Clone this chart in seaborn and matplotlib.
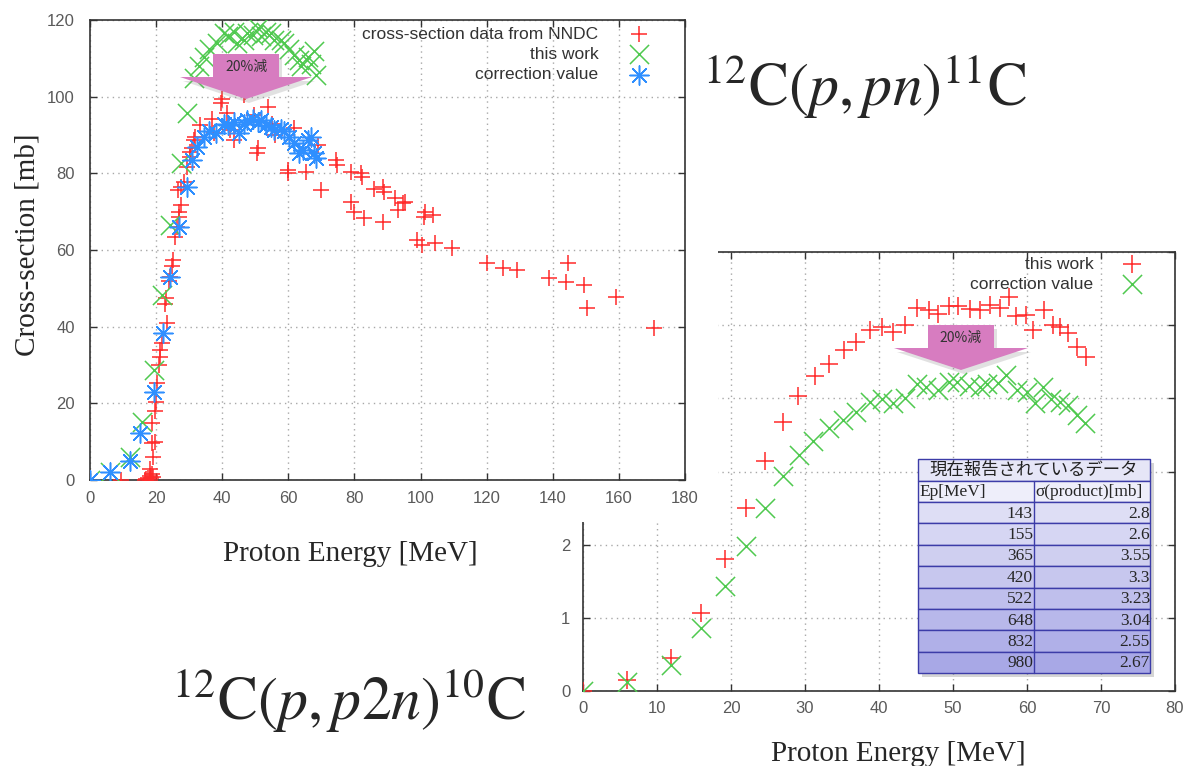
import numpy as np
import matplotlib
matplotlib.use("Agg")
import matplotlib.pyplot as plt
import seaborn as sns
from matplotlib.patches import Rectangle, Polygon

# ---- 12C(p,pn)11C : cross-section [mb] vs proton energy [MeV] ----
nndc_e = [9.5, 16.5, 17, 17.5, 18, 18.2, 18.5, 18.8, 19, 18.2, 19.2, 18.8, 19.6, 18.7, 19.8,
          20, 20.3, 20.8, 21.1, 21.3, 21.8, 23.3, 22.8, 23.1, 23.8, 24.1, 24.8, 25.1, 25.8,
          26.3, 26.8, 26.8, 27.4, 26.5, 27.4, 28.4, 29.4, 30.4, 30.2, 30.9, 31.4, 31.7, 33.4,
          37, 37.5, 39.5, 39.8, 41.5, 42.5, 43.6, 46.6, 46.8, 49.6, 50.7, 50.5, 53.7, 55, 56,
          59.8, 60, 61.8, 65.3, 68.9, 69.9, 74.5, 74.8, 79, 79, 80, 82, 82.2, 83, 86, 88.7,
          88.9, 88.7, 92.2, 93.2, 94.7, 95.2, 98.8, 100.3, 101.3, 101, 103.8, 104.3, 109.4,
          120.1, 124.8, 129.2, 138.8, 143.9, 144.7, 149.4, 150.5, 159, 170.7]
nndc_xs = [0, 0, 0.3, 0.6, 0, 1, 0.5, 1.5, 0.8, 3, 6, 9.6, 10, 15, 18,
           20.4, 25.3, 30, 32, 34, 35.7, 40.9, 46, 47.5, 52, 53, 55.7, 57.4, 63.5,
           66, 68.7, 70, 71.7, 75.7, 76.5, 77.8, 81.7, 84.3, 85.5, 86.5, 88.7, 89.6, 92.6,
           94.3, 90.4, 98.3, 99.3, 95.7, 91.3, 88.7, 100.4, 101.2, 95.2, 86.5, 85.4, 97.4, 93, 90,
           81, 80.2, 91.7, 80.4, 87.4, 75.7, 83.5, 82.2, 80.4, 72.6, 70, 80, 79, 68.3, 76, 76.5,
           75.2, 67.4, 73.5, 70.4, 72.2, 72.6, 62.6, 61.3, 70, 68.7, 69.1, 61.7, 60.4,
           56.5, 55.2, 54.8, 52.6, 51.7, 56.5, 50.9, 44.8, 47.8, 39.6]

pn_work_e = [0, 6, 12.2, 15.7, 19.5, 21.8, 24.3, 27.4, 29.4, 31.4, 32.9, 34.4, 35.9, 38.5,
             40.5, 41.6, 43.6, 44.6, 46.6, 47.6, 49.2, 50.7, 51.7, 53.2, 54.7, 55.7, 57.8,
             58.8, 60.3, 61.8, 63.3, 63.8, 65.9, 66.9, 67.9, 68.4]
pn_work_xs = [0, 2.2, 6, 15.2, 28.7, 48.3, 66.5, 82.6, 95.7, 104.8, 108, 110.3, 112.5, 114,
              116.5, 115.7, 117, 114, 114.8, 116.5, 116, 117.8, 115.7, 117, 116.5, 114.8, 114.8,
              114, 112.5, 111, 109.6, 108, 110.3, 108.6, 112, 105.7]

pn_corr_e = [0, 6, 12.2, 15.2, 19.3, 22.1, 24.3, 26.8, 29.4, 30.8, 32.4, 34.4, 35.9, 38.0,
             40.5, 41.6, 43.6, 45.0, 46.6, 47.6, 49.2, 50.7, 51.7, 53.2, 54.7, 55.7, 57.8,
             58.8, 60.3, 61.8, 63.3, 64.3, 65.9, 66.9, 67.9, 68.4]
pn_corr_xs = [0, 2, 5, 12.2, 23, 38.3, 53, 66, 76.5, 83.5, 87, 89.6, 91, 90.4,
              93, 92.6, 93.5, 90.4, 93, 93.9, 94.3, 93.5, 93.9, 92.6, 92.2, 91.3, 91.5,
              91, 89.6, 87.8, 85.2, 86, 88.7, 89.6, 85.2, 84]

# ---- 12C(p,p2n)10C ----
p2n_work_e = [0, 6, 11.9, 16, 19.2, 22, 24.6, 27, 29.1, 31.3, 33.3, 35.3, 36.9, 38.8, 40.4,
              41.9, 43.5, 45.1, 46.7, 48, 49.4, 50.7, 52.3, 53.6, 55, 56.3, 57.6, 58.5, 59.9,
              60.8, 62.3, 63.5, 64.5, 65.6, 66.7, 68]
p2n_work_xs = [0, 0.15, 0.45, 1.07, 1.81, 2.5, 3.15, 3.68, 4.03, 4.3, 4.47, 4.66, 4.77, 4.93,
               4.97, 4.91, 5.0, 5.23, 5.21, 5.15, 5.26, 5.26, 5.22, 5.21, 5.28, 5.23, 5.39,
               5.12, 5.14, 4.93, 5.21, 5.0, 4.98, 4.89, 4.7, 4.57]

p2n_corr_e = [0, 6, 11.9, 16, 19.2, 22, 24.6, 27, 29.2, 31.1, 33.3, 35.2, 36.9, 38.8, 40.4,
              41.9, 43.5, 45.1, 46.4, 48, 49.4, 50.5, 52.1, 53.6, 54.6, 56.1, 57.2, 58.6, 60,
              61.1, 62.2, 63.3, 64.5, 65.6, 66.7, 67.8]
p2n_corr_xs = [0, 0.12, 0.36, 0.86, 1.43, 1.98, 2.5, 2.94, 3.23, 3.42, 3.59, 3.7, 3.82, 3.95,
               3.99, 3.94, 4.01, 4.2, 4.16, 4.11, 4.23, 4.23, 4.17, 4.16, 4.2, 4.21, 4.32,
               4.11, 4.09, 3.93, 4.16, 3.99, 3.95, 3.91, 3.77, 3.66]

# reported data table
table_title = "現在報告されているデータ"
table_header = ["Ep[MeV]", "σ(product)[mb]"]
table_ep = ["143", "155", "365", "420", "522", "648", "832", "980"]
table_sigma = ["2.8", "2.6", "3.55", "3.3", "3.23", "3.04", "2.55", "2.67"]

RED = "#ff2a2a"
GREEN = "#4fc94f"
BLUE = "#2f8fff"

W, H = 1186, 766


def fig_box(left, top, right, bottom):
    # pixel box -> figure fraction [l, b, w, h]
    return [left / W, 1 - bottom / H, (right - left) / W, (bottom - top) / H]


def fxy(x, y):
    return (x / W, 1 - y / H)


def style_axes(ax, xlim, ylim, xstep, ystep, xpad, ypad):
    ax.set_xlim(*xlim)
    ax.set_ylim(*ylim)
    ax.set_xticks(np.arange(xlim[0], xlim[1] + 0.01, xstep))
    ax.set_yticks(np.arange(ylim[0], ylim[1] + 0.01, ystep))
    ax.grid(True, color="#a8a8a8", linestyle=(0, (1, 3)), linewidth=1)
    ax.set_axisbelow(True)
    ax.tick_params(direction="in", length=5, width=1, top=True, right=True,
                   color="#333333", labelcolor="#5a5a5a", labelsize=12)
    ax.tick_params(axis="x", pad=xpad)
    ax.tick_params(axis="y", pad=ypad)
    for sp in ax.spines.values():
        sp.set_visible(True)
        sp.set_color("#333333")
        sp.set_linewidth(1.2)
    ax.set_xlabel("")
    ax.set_ylabel("")


sns.set_style("ticks")
plt.rcParams["font.family"] = ["Liberation Sans", "Noto Sans CJK JP"]
plt.rcParams["mathtext.fontset"] = "stix"

fig = plt.figure(figsize=(W / 100, H / 100), dpi=100)

# ---------- p2n plot (lower right, partly hidden) ----------
ax2 = fig.add_axes(fig_box(583, 252, 1175, 691))
ax2.set_zorder(0)
sns.scatterplot(x=p2n_work_e, y=p2n_work_xs, marker="+", s=150, color=RED,
                linewidth=1.1, label="this work", ax=ax2, zorder=3)
sns.scatterplot(x=p2n_corr_e, y=p2n_corr_xs, marker="x", s=190, color=GREEN,
                linewidth=1.1, label="correction value", ax=ax2, zorder=3)
style_axes(ax2, (0, 80), (0, 6), 10, 1, 7, 9)
ax2.legend(loc="upper right", bbox_to_anchor=(0.956, 0.99), markerfirst=False,
           frameon=False, fontsize=12.5, labelspacing=0.3, handletextpad=1.2,
           borderpad=0, borderaxespad=0, labelcolor="#333333")

# white area of the pasted pn chart
fig.add_artist(Rectangle(fxy(0, 522), 718 / W, 522 / H, transform=fig.transFigure,
                         facecolor="white", edgecolor="none", zorder=1))

# ---------- pn plot (upper left) ----------
ax1 = fig.add_axes(fig_box(90, 20, 685, 480))
ax1.set_zorder(2)
sns.scatterplot(x=nndc_e, y=nndc_xs, marker="+", s=130, color=RED, linewidth=1.1,
                label="cross-section data from NNDC", ax=ax1, zorder=3)
sns.scatterplot(x=pn_work_e, y=pn_work_xs, marker="x", s=190, color=GREEN, linewidth=1.1,
                label="this work", ax=ax1, zorder=3)
sns.scatterplot(x=pn_corr_e, y=pn_corr_xs, marker=(8, 2, 0), s=190, color=BLUE,
                linewidth=1.1, label="correction value", ax=ax1, zorder=4)
style_axes(ax1, (0, 180), (0, 120), 20, 20, 8, 11)
ax1.legend(loc="upper right", bbox_to_anchor=(0.952, 0.986), markerfirst=False,
           frameon=False, fontsize=12.5, labelspacing=0.3, handletextpad=1.35,
           borderpad=0, borderaxespad=0, labelcolor="#333333")

# axis labels
serif = "Liberation Serif"
fig.text(*fxy(28, 245), "Cross-section [mb]", rotation=90, ha="center", va="center",
         fontsize=21, family=serif, zorder=7)
fig.text(*fxy(350, 561), "Proton Energy [MeV]", ha="center", va="baseline",
         fontsize=21, family=serif, zorder=7)
fig.text(*fxy(898, 761), "Proton Energy [MeV]", ha="center", va="baseline",
         fontsize=21, family=serif, zorder=7)

# reaction titles
fig.text(*fxy(865, 105), r"$^{12}\mathrm{C}(p,pn)^{11}\mathrm{C}$", ha="center",
         va="baseline", fontsize=43, zorder=7)
fig.text(*fxy(349, 719), r"$^{12}\mathrm{C}(p,p2n)^{10}\mathrm{C}$", ha="center",
         va="baseline", fontsize=43, zorder=7)


# "20% down" block arrows
def block_arrow(cx, top, half_body, head_y, half_head, tip_y):
    pts = [(cx - half_body, top), (cx + half_body, top), (cx + half_body, head_y),
           (cx + half_head, head_y), (cx, tip_y), (cx - half_head, head_y),
           (cx - half_body, head_y)]
    shadow = Polygon([fxy(x + 3, y + 4) for x, y in pts], closed=True,
                     transform=fig.transFigure, facecolor="#888888", alpha=0.25,
                     edgecolor="none", zorder=5)
    body = Polygon([fxy(x, y) for x, y in pts], closed=True, transform=fig.transFigure,
                   facecolor="#d77cc0", edgecolor="none", zorder=5)
    fig.add_artist(shadow)
    fig.add_artist(body)
    fig.text(*fxy(cx, (top + head_y) / 2 + 1), "20%減", ha="center", va="center",
             fontsize=10, color="#333333", family=["Noto Sans CJK JP"], zorder=6)


block_arrow(246, 54, 33, 77, 66, 99)
block_arrow(961, 325, 33, 348, 67, 370)

# reported data table
tab = fig.add_axes(fig_box(918, 459, 1150, 673))
tab.set_zorder(6)
tab.set_xlim(0, 232)
tab.set_ylim(214, 0)
tab.axis("off")
edge = "#3c3ca8"
tab.add_patch(Rectangle((4, 4), 232, 214, facecolor="#777777", alpha=0.3,
                        edgecolor="none", clip_on=False, zorder=0))
tab.add_patch(Rectangle((0, 0), 232, 22, facecolor="#e6e6f7", edgecolor=edge,
                        lw=1, clip_on=False, zorder=1))
tab.text(116, 11, table_title, ha="center", va="center", fontsize=12.5,
         family=["Noto Sans CJK JP"], color="#222222")
tab.add_patch(Rectangle((0, 22), 232, 21, facecolor="#eeeefa", edgecolor=edge,
                        lw=1, clip_on=False, zorder=1))
tab.plot([116, 116], [22, 214], color=edge, lw=1, zorder=3, clip_on=False)
tab.text(1, 32.5, table_header[0], ha="left", va="center", fontsize=12.5, family=serif)
tab.text(117, 32.5, table_header[1], ha="left", va="center", fontsize=12.5, family=serif)
row_h = (214 - 43) / len(table_ep)
shades = np.linspace(0, 1, len(table_ep))
for i, (ep, sg) in enumerate(zip(table_ep, table_sigma)):
    y0 = 43 + i * row_h
    c = np.array([0.87, 0.87, 0.96]) * (1 - shades[i]) + np.array([0.66, 0.66, 0.9]) * shades[i]
    tab.add_patch(Rectangle((0, y0), 232, row_h, facecolor=c, edgecolor=edge, lw=1,
                            clip_on=False, zorder=1))
    tab.text(115, y0 + row_h / 2 + 1, ep, ha="right", va="center", fontsize=12.5,
             family=serif, zorder=4)
    tab.text(232, y0 + row_h / 2 + 1, sg, ha="right", va="center", fontsize=12.5,
             family=serif, zorder=4)

fig.savefig("out.png", dpi=100)
